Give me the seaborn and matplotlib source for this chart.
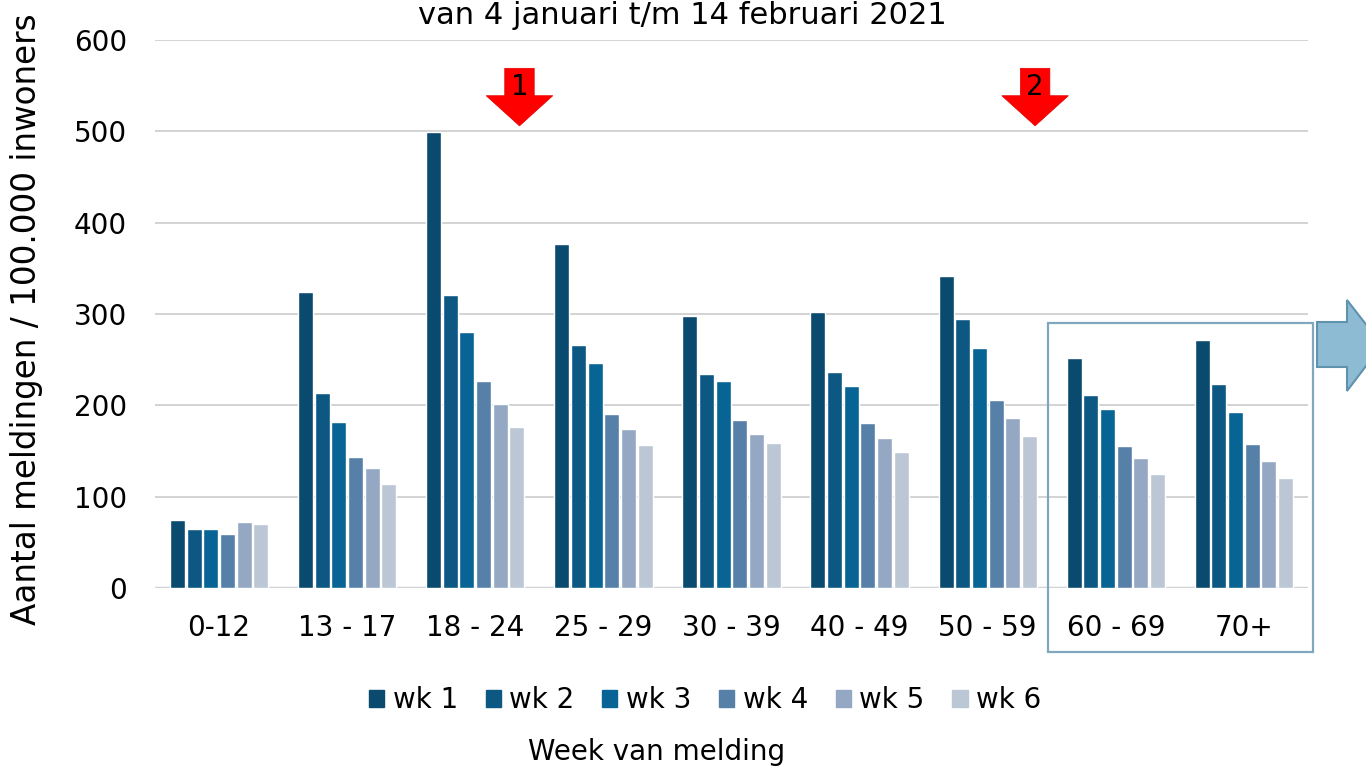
import numpy as np
import pandas as pd
import matplotlib
matplotlib.use("Agg")
import matplotlib.pyplot as plt
import seaborn as sns
from matplotlib.patches import Rectangle, Polygon

# data (meldingen per 100.000 inwoners)
age_groups = ["0-12", "13 - 17", "18 - 24", "25 - 29", "30 - 39",
              "40 - 49", "50 - 59", "60 - 69", "70+"]
weeks = ["wk 1", "wk 2", "wk 3", "wk 4", "wk 5", "wk 6"]
wk1 = [74, 324, 499, 377, 298, 302, 342, 252, 272]
wk2 = [65, 213, 321, 266, 234, 236, 294, 211, 223]
wk3 = [65, 182, 280, 246, 227, 221, 263, 196, 193]
wk4 = [59, 143, 227, 190, 184, 181, 206, 155, 158]
wk5 = [72, 131, 202, 174, 169, 164, 186, 142, 139]
wk6 = [70, 114, 176, 157, 159, 149, 166, 125, 120]
week_colors = ["#0b4a6f", "#0d5883", "#086494", "#5780a8", "#94a8c3", "#bcc7d5"]
yticks = [0, 100, 200, 300, 400, 500, 600]

df = pd.DataFrame({"leeftijd": age_groups * 6,
                   "week": np.repeat(weeks, len(age_groups)),
                   "waarde": wk1 + wk2 + wk3 + wk4 + wk5 + wk6})

sns.set_style("white")
plt.rcParams["font.family"] = ["DejaVu Sans"]
plt.rcParams["text.color"] = "black"

W, H = 1366, 769
fig = plt.figure(figsize=(W / 100, H / 100), dpi=100)
ax = fig.add_axes([155 / W, 1 - 588 / H, (1308 - 155) / W, (588 - 40) / H])

sns.barplot(data=df, x="leeftijd", y="waarde", hue="week", order=age_groups,
            hue_order=weeks, palette=week_colors, saturation=1, width=0.78,
            gap=0.1, errorbar=None, ax=ax, zorder=3)

ax.set_ylim(0, 600)
ax.set_xlim(-0.5, 8.5)
ax.set_yticks(yticks)
for t in yticks:
    ax.axhline(t, color="#d3d3d3", lw=2.5 if t == 0 else 1.4, zorder=1)
sns.despine(ax=ax, left=True, bottom=True, top=True, right=True)
ax.tick_params(axis="both", length=0, labelsize=20, colors="black")
ax.tick_params(axis="y", pad=20)
ax.tick_params(axis="x", pad=19)
ax.set_xlabel("")
ax.set_ylabel("Aantal meldingen / 100.000 inwoners", fontsize=23.5,
              color="black")
ax.yaxis.set_label_coords(-0.097, 0.49)
ax.get_legend().remove()

# red arrows with numbers
for xpos, label in [(2.345, "1"), (6.37, "2")]:
    ax.arrow(xpos, 569, 0, -63, width=0.23, head_width=0.52, head_length=33,
             length_includes_head=True, fc="#ff0000", ec="#e00000",
             lw=0.5, clip_on=False, zorder=5)
    ax.text(xpos, 549, label, ha="center", va="center", fontsize=20,
            color="black", zorder=6)

# box around the oldest age groups
fig.patches.append(Rectangle((1048 / W, 1 - 652 / H), (1313 - 1048) / W,
                             (652 - 323) / H, transform=fig.transFigure,
                             fill=False, ec="#7fa7bd", lw=1.6))
# arrow pointing out of the picture
pts = [(1317, 322), (1347, 322), (1347, 300), (1382, 345), (1347, 391),
       (1347, 367), (1317, 367)]
fig.patches.append(Polygon([(x / W, 1 - y / H) for x, y in pts], closed=True,
                           transform=fig.transFigure, fc="#8dbbd3",
                           ec="#5f93ad", lw=1.5))

# title (sits at the very top edge in the original)
fig.text(682 / W, 1 - 1 / H, "van 4 januari t/m 14 februari 2021",
         ha="center", va="top", fontsize=22)

handles = [Rectangle((0, 0), 1, 1, color=c) for c in week_colors]
fig.legend(handles, weeks, loc="center", bbox_to_anchor=(705 / W, 1 - 700 / H),
           ncol=6, frameon=False, fontsize=20, handlelength=0.55,
           handleheight=0.55, handletextpad=0.3, columnspacing=1.0)
fig.text(657 / W, 1 - 752 / H, "Week van melding", ha="center", va="center",
         fontsize=20)

fig.savefig("out.png", dpi=100)
